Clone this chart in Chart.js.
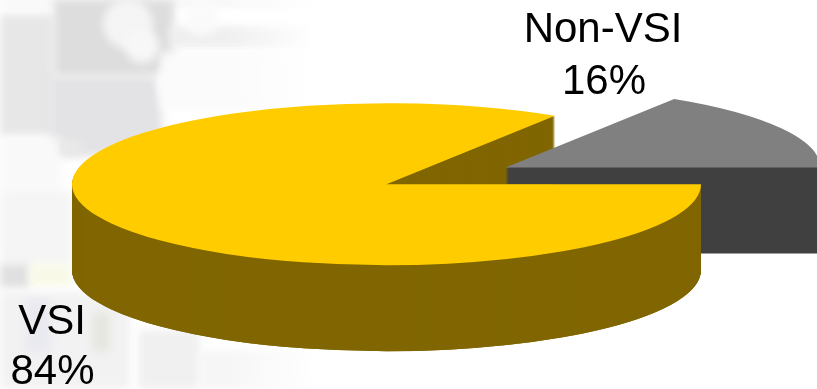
<!DOCTYPE html>
<html>
<head>
<meta charset="utf-8">
<style>
  html, body { margin: 0; padding: 0; background: #fff; }
  canvas { display: block; }
</style>
</head>
<body>
<canvas id="shareChart" width="817" height="389"></canvas>
<script src="https://cdn.jsdelivr.net/npm/chart.js@4"></script>
<script>
const categories = ['VSI', 'Non-VSI'];
const shares = [84, 16];
const topColors = ['#ffcc00', '#808080'];
const sideColors = ['#806600', '#404040'];

// Tilt of the pie and how far the slice is pulled out
const SQUASH = 0.2575;
const DEPTH = 86;
const EXPLODE = 136;

// Faded photo behind the left part of the slide
function drawBackdrop(ctx) {
  const blocks = [
    ['#f2f2f2', 0, 0, 320, 6],
    ['#e7e7e7', 0, 14, 54, 122],
    ['#dddddd', 54, 0, 120, 76],
    ['#e3e3e5', 50, 76, 112, 80],
    ['#efefef', 170, 26, 140, 22],
    ['#f9f9f9', 0, 138, 62, 52],
    ['#e9e9e9', 60, 140, 22, 16],
    ['#fbfbfb', 160, 52, 150, 58],
    ['#f5f5f5', 0, 190, 72, 75],
    ['#e0e0e0', 0, 264, 30, 24],
    ['#f9f9e8', 30, 264, 42, 22],
    ['#f2f2f3', 0, 292, 130, 97],
    ['#e9e9f0', 26, 300, 24, 52],
    ['#e6e6e0', 92, 312, 18, 40],
    ['#f0f0f1', 138, 330, 62, 59],
    ['#f6f6f6', 200, 350, 110, 39]
  ];
  const blobs = [
    ['#f5f5f5', 128, 24, 25],
    ['#f7f7f7', 142, 46, 17],
    ['#fafafa', 202, 19, 17],
    ['#fbfbfb', 172, 84, 15]
  ];
  ctx.save();
  ctx.filter = 'blur(4px)';
  blocks.forEach(([color, x, y, w, h]) => {
    ctx.fillStyle = color;
    ctx.fillRect(x, y, w, h);
  });
  blobs.forEach(([color, x, y, r]) => {
    ctx.fillStyle = color;
    ctx.beginPath();
    ctx.arc(x, y, r, 0, Math.PI * 2);
    ctx.fill();
  });
  ctx.restore();

  // Photo dissolves into the white slide towards the middle
  const fade = ctx.createLinearGradient(225, 0, 315, 0);
  fade.addColorStop(0, 'rgba(255, 255, 255, 0)');
  fade.addColorStop(1, 'rgba(255, 255, 255, 1)');
  ctx.fillStyle = fade;
  ctx.fillRect(225, 0, 100, 389);
}

// Draw one arc squashed onto the tilted plane, dropped by `drop` pixels
function drawArc(ctx, arc, color, drop, pull) {
  const mid = (arc.startAngle + arc.endAngle) / 2;
  const piece = Object.create(arc);
  piece.options = { ...arc.options, backgroundColor: color, borderColor: color, borderWidth: 0 };
  ctx.save();
  ctx.translate(arc.x, arc.y + drop);
  ctx.scale(1, SQUASH);
  ctx.translate(-arc.x, -arc.y);
  ctx.translate(Math.cos(mid) * pull, Math.sin(mid) * pull);
  piece.draw(ctx);
  ctx.restore();
}

function drawSides(ctx, arc, color, pull) {
  for (let drop = DEPTH; drop > 0; drop--) {
    drawArc(ctx, arc, color, drop, pull);
  }
}

const pie3d = {
  id: 'pie3d',
  beforeDraw(chart) {
    drawBackdrop(chart.ctx);
  },
  beforeDatasetsDraw(chart) {
    const ctx = chart.ctx;
    const [vsi, other] = chart.getDatasetMeta(0).data;

    // Back of the big slice goes first, the pulled out slice sits over it
    drawSides(ctx, vsi, sideColors[0], 0);
    drawSides(ctx, other, sideColors[1], EXPLODE);
    drawArc(ctx, other, topColors[1], 0, EXPLODE);

    // Front wall of the big slice hides the grey side
    ctx.save();
    ctx.beginPath();
    ctx.rect(0, vsi.y, chart.width, chart.height - vsi.y);
    ctx.clip();
    drawSides(ctx, vsi, sideColors[0], 0);
    ctx.restore();

    drawArc(ctx, vsi, topColors[0], 0, 0);
    return false;
  },
  afterDraw(chart) {
    const ctx = chart.ctx;
    ctx.save();
    ctx.fillStyle = '#000';
    ctx.font = '42px "Liberation Sans", Arial, sans-serif';
    ctx.textAlign = 'center';
    ctx.textBaseline = 'alphabetic';
    ctx.fillText(categories[1], 603, 42);
    ctx.fillText(shares[1] + '%', 604, 94);
    ctx.fillText(categories[0], 52, 334);
    ctx.fillText(shares[0] + '%', 52.5, 384);
    ctx.restore();
  }
};

new Chart(document.getElementById('shareChart'), {
  type: 'pie',
  data: {
    labels: categories,
    datasets: [{
      data: shares,
      backgroundColor: topColors,
      borderWidth: 0
    }]
  },
  options: {
    responsive: false,
    animation: false,
    rotation: 90,
    radius: 314.5,
    clip: false,
    layout: {
      padding: { left: 0, right: 44, top: 0, bottom: 20.5 }
    },
    plugins: {
      legend: { display: false },
      tooltip: { enabled: false }
    }
  },
  plugins: [pie3d]
});
</script>
</body>
</html>
